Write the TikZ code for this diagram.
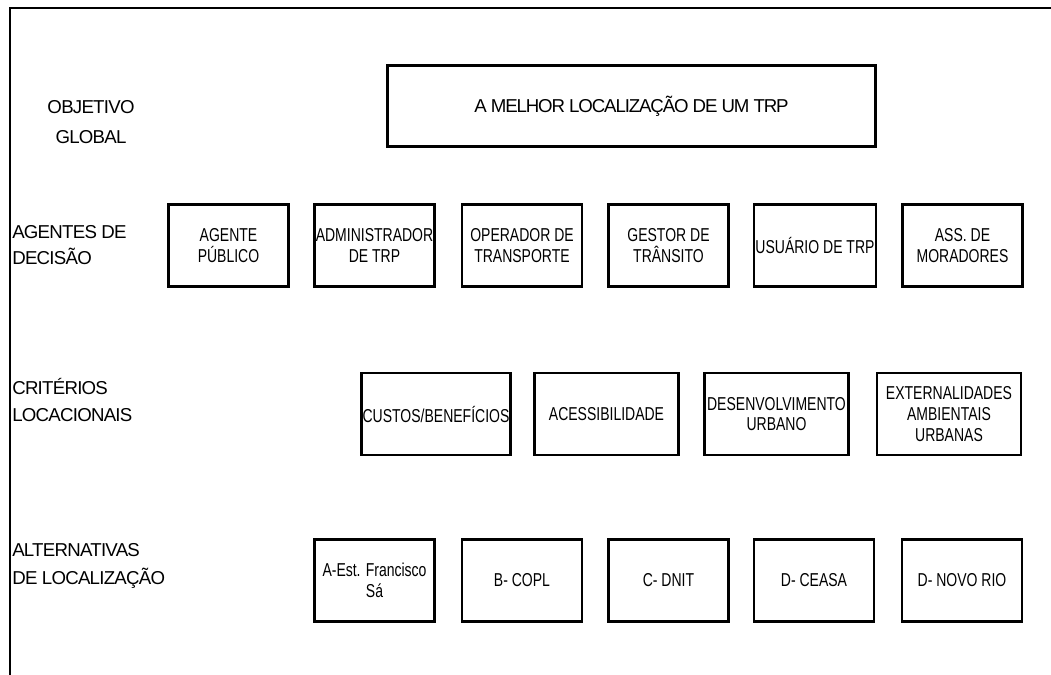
\documentclass[tikz,border=0pt]{standalone}
\usepackage{fontspec}
\setmainfont[LetterSpace=-4]{Liberation Sans}
\newfontfamily\goalfont[LetterSpace=-6]{Liberation Sans}
\newfontfamily\boxfont[FakeStretch=0.75]{Liberation Sans}
\usetikzlibrary{positioning}
\tikzset{
  every node/.style = {font=\fontsize{14}{16}\selectfont, text=black},
  frame line/.style = {draw=black, line width=2.2pt, line cap=rect},
  level box/.style = {
    draw=black,
    fill=white,
    line width=2pt,
    align=center,
    inner sep=1pt,
    font=\boxfont\fontsize{14}{15.5}\selectfont,
    minimum width=90pt,
    minimum height=61.5pt
  },
  goal box/.style = {level box, font=\goalfont\fontsize{14}{16}\selectfont,
    minimum width=366pt, minimum height=60.75pt},
  crit box/.style = {level box, minimum width=108pt},
  level label/.style = {
    font=\fontsize{14}{20}\selectfont,
    align=left,
    anchor=west,
    inner sep=0pt
  },
}

\begin{document}
\begin{tikzpicture}[x=0.75pt,y=-0.75pt]
  \useasboundingbox (0,0) rectangle (1051,675);
  \draw[frame line] (1051,8) -- (10,8) -- (10,675);

  % objetivo global
  \node[level label, align=center, anchor=center, font=\fontsize{14}{22}\selectfont] (lblGoal) at (91,122) {OBJETIVO\\GLOBAL};
  \node[goal box] (goal) at (631.5,106) {A MELHOR LOCALIZAÇÃO DE UM TRP};

  % agentes de decisao
  \node[level label] (lblAgents) at (12,245) {AGENTES DE\\DECISÃO};
  \node[level box] (agPub) at (228.5,245.5) {AGENTE\\PÚBLICO};
  \node[level box] (agAdm) at (374.5,245.5) {ADMINISTRADOR\\DE TRP};
  \node[level box] (agOper) at (522,245.5) {OPERADOR DE\\TRANSPORTE};
  \node[level box] (agGest) at (668.5,245.5) {GESTOR DE\\TRÂNSITO};
  \node[level box] (agUser) at (815,245.5) {USUÁRIO DE TRP};
  \node[level box] (agMor) at (962.5,245.5) {ASS. DE\\MORADORES};

  % criterios locacionais
  \node[level label] (lblCrit) at (12,400) {CRITÉRIOS\\LOCACIONAIS};
  \node[crit box] (crCost) at (436,414) {CUSTOS/BENEFÍCIOS};
  \node[crit box] (crAcc) at (606.5,414) {ACESSIBILIDADE};
  \node[crit box] (crDev) at (776.5,414) {DESENVOLVIMENTO\\URBANO};
  \node[crit box] (crExt) at (949,414) {EXTERNALIDADES\\AMBIENTAIS\\URBANAS};

  % alternativas de localizacao
  \node[level label, font=\fontsize{14}{21}\selectfont] (lblAlt) at (12,566) {ALTERNATIVAS\\DE LOCALIZAÇÃO};
  \node[level box] (altA) at (374.5,580.5) {A-Est. Francisco\\Sá};
  \node[level box] (altB) at (522,580.5) {B- COPL};
  \node[level box] (altC) at (668.5,580.5) {C- DNIT};
  \node[level box] (altD) at (814,580.5) {D- CEASA};
  \node[level box] (altE) at (962,580.5) {D- NOVO RIO};
\end{tikzpicture}
\end{document}
